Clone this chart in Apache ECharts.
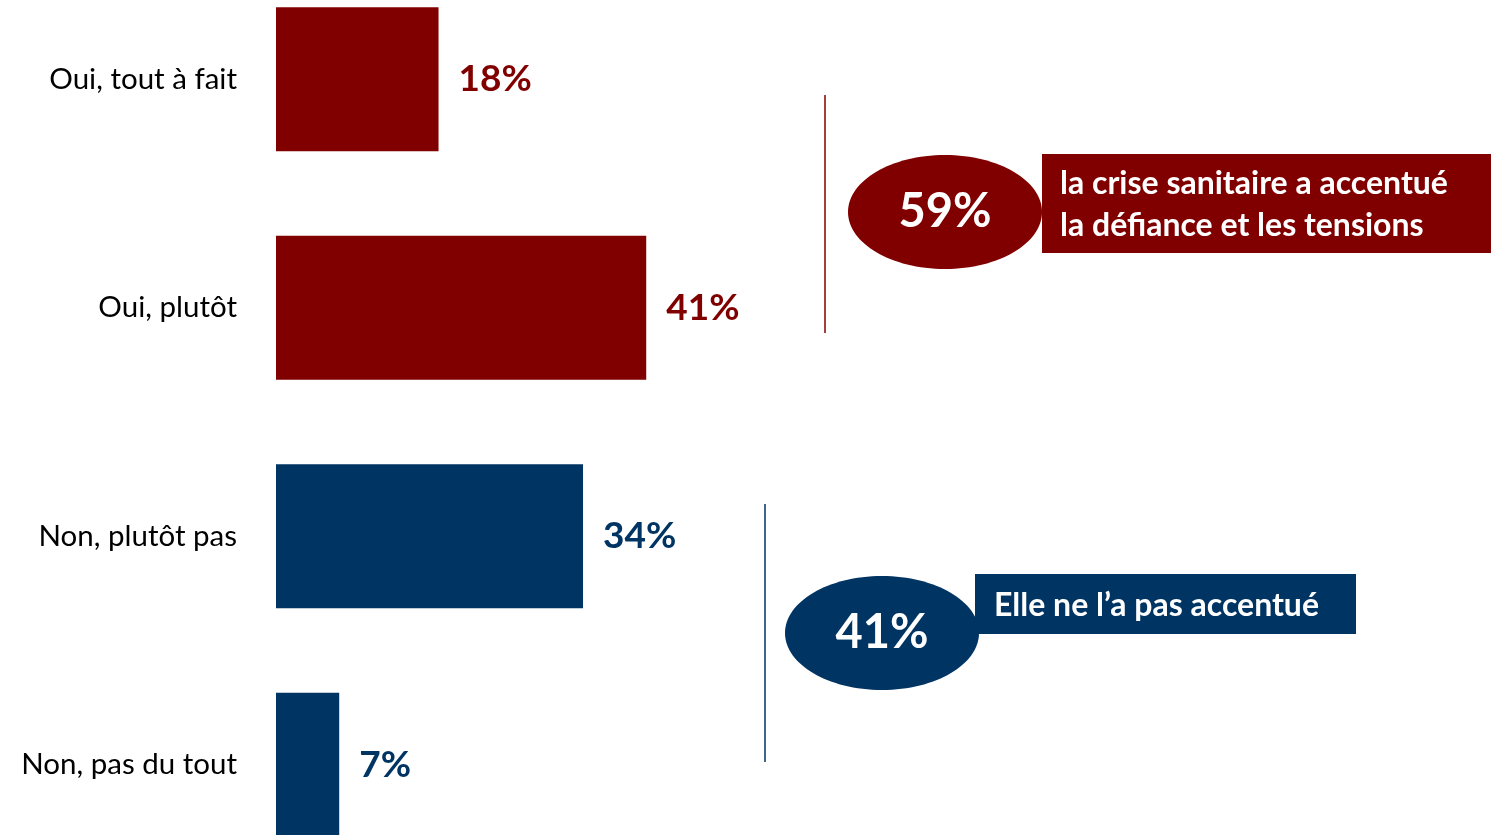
<!DOCTYPE html>
<html><head><meta charset="utf-8">
<script src="https://cdn.jsdelivr.net/npm/echarts@6/dist/echarts.min.js"></script>
<style>html,body{margin:0;padding:0;background:#fff;overflow:hidden;width:1491px;height:835px}
#c{position:absolute;left:0;top:-35px;width:1491px;height:914px}</style>
</head><body><div id="c"></div>
<script>
const categories = ["Oui, tout à fait", "Oui, plutôt", "Non, plutôt pas", "Non, pas du tout"];
const values = [18, 41, 34, 7];
const groupOui = { total: 59, text: ["la crise sanitaire a accentué", "la défiance et les tensions"] };
const groupNon = { total: 41, text: ["Elle ne l’a pas accentué"] };
const RED = "#800000", BLUE = "#003463";
const colors = [RED, RED, BLUE, BLUE];
const FONT = "Lato";
const OY = 35; // offset of the chart div above the page top

const chart = echarts.init(document.getElementById('c'), null, {renderer: 'canvas'});
chart.setOption({
  animation: false,
  backgroundColor: '#fff',
  grid: { left: 276, top: 0, width: 903, height: 914, containLabel: false },
  xAxis: { type: 'value', min: 0, max: 100, show: false },
  yAxis: {
    type: 'category', data: categories, inverse: true,
    axisLine: {show: false}, axisTick: {show: false}, splitLine: {show: false},
    axisLabel: { color: '#000', fontSize: 29.5, fontFamily: FONT, margin: 39 }
  },
  series: [{
    type: 'bar', barWidth: 144,
    data: values.map((v, i) => ({ value: v, itemStyle: { color: colors[i] },
      label: { color: colors[i] } })),
    label: { show: true, position: 'right', distance: 20, formatter: '{c}%',
      fontSize: 37, fontWeight: 'bold', fontFamily: FONT }
  }],
  graphic: [
    { type: 'line', shape: {x1: 825, y1: 95 + OY, x2: 825, y2: 333 + OY}, style: {stroke: RED, lineWidth: 1.5} },
    { type: 'line', shape: {x1: 765, y1: 504 + OY, x2: 765, y2: 762 + OY}, style: {stroke: BLUE, lineWidth: 1.5} },
    { type: 'rect', shape: {x: 1042, y: 154 + OY, width: 449, height: 99}, style: {fill: RED} },
    { type: 'ellipse', shape: {cx: 945, cy: 212 + OY, rx: 97, ry: 57}, style: {fill: RED} },
    { type: 'text', x: 945, y: 212 + OY, style: { text: groupOui.total + '%', fill: '#fff', fontSize: 47, fontWeight: 'bold', fontFamily: FONT, align: 'center', verticalAlign: 'middle' } },
    { type: 'text', x: 1060, y: 205 + OY, style: { text: groupOui.text.join('\n'), fill: '#fff', fontSize: 32, fontWeight: 'bold', fontFamily: FONT, lineHeight: 42, align: 'left', verticalAlign: 'middle' } },
    { type: 'rect', shape: {x: 975, y: 574 + OY, width: 381, height: 60}, style: {fill: BLUE} },
    { type: 'ellipse', shape: {cx: 882, cy: 633 + OY, rx: 97, ry: 57}, style: {fill: BLUE} },
    { type: 'text', x: 882, y: 633 + OY, style: { text: groupNon.total + '%', fill: '#fff', fontSize: 47, fontWeight: 'bold', fontFamily: FONT, align: 'center', verticalAlign: 'middle' } },
    { type: 'text', x: 994, y: 606 + OY, style: { text: groupNon.text.join('\n'), fill: '#fff', fontSize: 32, fontWeight: 'bold', fontFamily: FONT, align: 'left', verticalAlign: 'middle' } }
  ]
});
</script></body></html>
